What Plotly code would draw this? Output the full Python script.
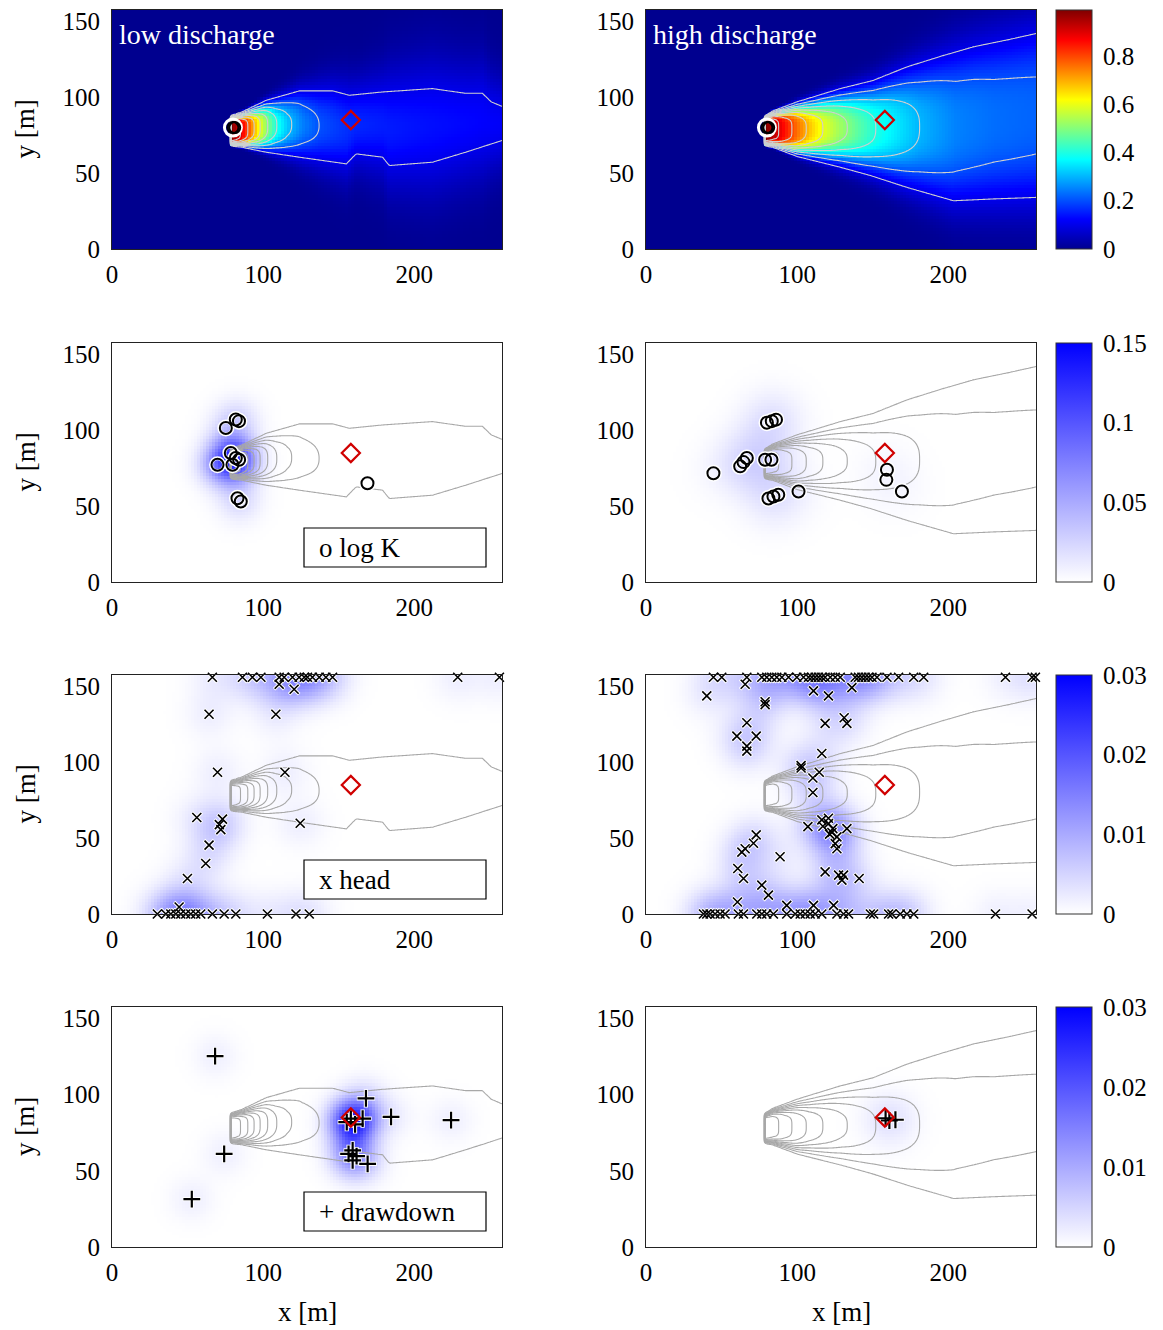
import numpy as np
import plotly.graph_objects as go

FONT = "Liberation Serif"
W, H = 1163, 1330
X_MAX, Y_MAX = 258.0, 157.5
SRC_X = 79.0                 # injection line (plume starts here)
WELL = (80.0, 80.0)          # injection well marker
TARGET = (158.0, 85.0)       # control point (red diamond)

# ---------------- plume, low discharge ----------------
# centre-line concentration along the plume axis
low_cx = [79, 84, 89, 94, 98, 103, 109, 116, 126, 137, 160, 200, 240, 258]
low_cc = [0.99, 0.92, 0.82, 0.70, 0.60, 0.50, 0.40, 0.32, 0.25, 0.20, 0.16, 0.14, 0.125, 0.115]
# upper / lower edge of the 0.1 iso-line
low_tx = [79, 86, 102, 124, 146, 157, 179, 212, 234, 245, 251, 258]
low_top = [88, 90.3, 98, 104.2, 104.2, 101.3, 103.5, 105.7, 102.6, 102.6, 96.9, 94]
low_bx = [79, 86, 102, 124, 155, 161.5, 179, 183.4, 212, 234, 258]
low_bot = [68, 67.1, 63.8, 60.5, 56.1, 62.7, 60.5, 55, 57.2, 63.8, 71.5]
# lateral profile exponent (box-like at the source, gaussian downstream)
low_px = [79, 92, 108, 130, 170, 258]
low_pp = [8, 4.5, 3.0, 2.4, 2.0, 2.0]

# ---------------- plume, high discharge ----------------
high_cx = [79, 86, 93, 100, 108, 117, 128, 140, 152, 166, 181, 205, 230, 258]
high_cc = [0.99, 0.92, 0.84, 0.76, 0.68, 0.60, 0.53, 0.46, 0.40, 0.35, 0.30, 0.25, 0.23, 0.22]
high_tx = [79, 84, 100, 128.5, 150, 172.6, 195, 216.8, 240, 258]
high_top = [88, 91, 97, 105.7, 111, 120, 127, 133.3, 138, 142]
high_bx = [79, 84, 100, 128.5, 150, 172.6, 203.5, 230, 258]
high_bot = [68, 67, 61, 53.9, 48, 40.6, 31.8, 33, 34]
high_px = [79, 92, 108, 130, 170, 258]
high_pp = [8, 5, 3.6, 3.0, 2.8, 2.8]

# ---------------- measurement locations ----------------
logk_lo_x = [81.9, 75.3, 84.0, 78.6, 81.9, 69.8, 79.7, 84.1, 83.0, 85.2, 169.0]
logk_lo_y = [107.1, 101.5, 106.0, 85.0, 81.7, 77.3, 77.3, 80.6, 55.2, 53.0, 65.1]
logk_lo_w = [0.012, 0.008, 0.010, 0.030, 0.030, 0.035, 0.035, 0.030, 0.012, 0.010, 0.0]

logk_hi_x = [83.2, 80.0, 86.0, 66.7, 62.3, 64.5, 78.8, 83.0, 44.6, 84.3, 81.0, 87.5, 100.9, 159.4, 159.0, 169.3]
logk_hi_y = [106.0, 105.0, 107.0, 81.7, 76.2, 79.0, 80.6, 80.6, 71.7, 56.3, 55.0, 57.5, 59.6, 74.0, 67.3, 59.6]
logk_hi_w = [0.006, 0.006, 0.006, 0.006, 0.006, 0.006, 0.006, 0.006, 0.002, 0.005, 0.005, 0.005, 0.003, 0.003, 0.003, 0.002]

head_lo_x = [66.4, 86.3, 92.9, 98.5, 110.6, 113.9, 119.4, 123.8, 127.2, 129.3, 132.6, 137.1, 141.5, 145.9,
             228.7, 256.3, 110.6, 120.5, 64.2, 108.4, 69.8, 114.4, 56.1, 73.1, 71.0, 72.0, 124.5,
             64.2, 62.0, 49.9, 44.4,
             30.0, 35.6, 38.9, 42.2, 45.5, 48.8, 52.1, 55.4, 58.7, 66.4, 74.2, 81.9, 102.8, 121.7, 130.5]
head_lo_y = [156] * 16 + [151.4, 148.1, 131.6, 131.6, 93.4, 93.4, 63.6, 62.5, 58.9, 55.6, 59.8,
                          45.4, 33.3, 23.4, 4.6] + [0] * 15

head_hi_x = [44.6, 50.1, 66.7, 76.6, 79.9, 83.2, 86.5, 89.9, 94.3, 99.8, 104.2, 107.5, 109.7, 111.9,
             114.1, 116.3, 118.5, 121.9, 125.2, 128.5, 138.4, 140.6, 142.8, 145.0, 147.2, 149.5,
             152.8, 159.4, 167.1, 177.1, 183.7, 237.8, 255.4, 257.6,
             40.2, 65.6, 78.8, 78.8, 110.8, 120.7, 136.2, 66.7, 60.1, 72.9, 66.7, 66.7, 118.5, 131.1,
             132.9, 116.3, 102.6, 102.6, 114.6, 110.4, 110.4, 120.7, 116.3, 107.1, 117.0, 120.7,
             123.6, 126.3, 125.2, 123.0, 132.9, 121.4, 126.3, 72.9, 71.1, 65.6, 63.4, 88.7, 60.7,
             64.5, 76.6, 81.0, 118.5, 127.4, 130.7, 129.6, 141.0, 60.5, 93.1, 110.8, 124.1,
             38.0, 40.2, 42.4, 45.7, 49.0, 52.3, 61.1, 64.5, 73.3, 76.6, 79.9, 84.3, 93.1, 98.7,
             102.0, 105.3, 108.6, 111.9, 116.3, 126.3, 130.7, 134.0, 148.4, 150.6, 160.5, 162.7,
             168.2, 172.6, 177.1, 231.2, 255.4]
head_hi_y = [156] * 34 + [143.7, 151.4, 139.9, 138.0, 147.0, 143.7, 149.2, 126.0, 117.2, 117.2, 110.6,
                          107.3, 125.6, 129.3, 125.6, 105.8, 97.8, 96.2, 93.4, 89.6, 80.1, 63.1,
                          62.0, 57.6, 57.8, 59.6, 56.3, 50.8, 46.4, 53.7, 56.3, 52.6, 43.0, 52.1,
                          46.6, 43.0, 40.8, 37.7, 30.0, 23.4, 19.0, 12.4, 27.8, 25.6, 25.6, 22.3,
                          23.4, 7.9, 5.7, 5.7, 5.7] + [0] * 31

dd_lo_x = [68.2, 168.0, 158.0, 165.8, 155.3, 160.8, 184.6, 224.3, 74.2, 159.2, 156.5, 161.8, 159.2, 169.1, 52.8]
dd_lo_y = [125.2, 97.6, 84.3, 84.3, 82.0, 80.5, 85.4, 83.2, 61.1, 63.4, 61.1, 59.6, 56.9, 54.5, 31.4]
dd_lo_w = [0.0018, 0.003, 0.009, 0.006, 0.007, 0.007, 0.002, 0.0018, 0.0018, 0.004, 0.004, 0.003,
           0.003, 0.002, 0.0018]

dd_hi_x = [158.5, 161.0, 165.0]
dd_hi_y = [84.5, 83.0, 83.5]
dd_hi_w = [0.0013, 0.0013, 0.001]

# colour bar ticks per row
cb_ticks = [[0, 0.2, 0.4, 0.6, 0.8], [0, 0.05, 0.1, 0.15], [0, 0.01, 0.02, 0.03], [0, 0.01, 0.02, 0.03]]
cb_text = [["0", "0.2", "0.4", "0.6", "0.8"], ["0", "0.05", "0.1", "0.15"],
           ["0", "0.01", "0.02", "0.03"], ["0", "0.01", "0.02", "0.03"]]
z_max = [0.99, 0.15, 0.03, 0.03]

# ---------------- grids ----------------
hx = np.arange(1.0, 258.0, 2.0)
hy = np.arange(1.0, 158.0, 2.0)
HX, HY = np.meshgrid(hx, hy)
lx = np.arange(0.0, 258.5, 1.0)
ly = np.arange(0.0, 158.0, 1.0)
LX, LY = np.meshgrid(lx, ly)


def plume(X, Y, cx, cc, tx, top, bx, bot, ppx, ppv):
    amp = np.interp(X, cx, cc)
    yt = np.interp(X, tx, top)
    yb = np.interp(X, bx, bot)
    yc = 0.5 * (yt + yb)
    hw = 0.5 * (yt - yb)
    p = np.interp(X, ppx, ppv)
    u = np.abs(Y - yc) / hw
    c = amp * np.exp(u ** p * np.log(0.1 / amp))
    c[X < SRC_X] = 0.0
    return c


def density(X, Y, xs, ys, ws, bw):
    d = np.zeros_like(X)
    for xi, yi, wi in zip(xs, ys, ws):
        d += wi * np.exp(-((X - xi) ** 2 + (Y - yi) ** 2) / (2 * bw ** 2))
    return d


low_args = (low_cx, low_cc, low_tx, low_top, low_bx, low_bot, low_px, low_pp)
high_args = (high_cx, high_cc, high_tx, high_top, high_bx, high_bot, high_px, high_pp)
plume_h = [plume(HX, HY, *low_args), plume(HX, HY, *high_args)]
plume_l = [plume(LX, LY, *low_args), plume(LX, LY, *high_args)]

n_head_lo = len(head_lo_x)
n_head_hi = len(head_hi_x)
dens = {
    (1, 0): density(HX, HY, logk_lo_x, logk_lo_y, logk_lo_w, 10.0),
    (1, 1): density(HX, HY, logk_hi_x, logk_hi_y, logk_hi_w, 14.0),
    (2, 0): density(HX, HY, head_lo_x, head_lo_y, [0.0019] * n_head_lo, 11.0),
    (2, 1): density(HX, HY, head_hi_x, head_hi_y, [0.0016] * n_head_hi, 11.0),
    (3, 0): density(HX, HY, dd_lo_x, dd_lo_y, dd_lo_w, 10.0),
    (3, 1): density(HX, HY, dd_hi_x, dd_hi_y, dd_hi_w, 12.0),
}

marks = {
    (1, 0): (logk_lo_x, logk_lo_y), (1, 1): (logk_hi_x, logk_hi_y),
    (2, 0): (head_lo_x, head_lo_y), (2, 1): (head_hi_x, head_hi_y),
    (3, 0): (dd_lo_x, dd_lo_y), (3, 1): (dd_hi_x, dd_hi_y),
}

JET = [[0.0, "#00008f"], [0.125, "#0000ff"], [0.375, "#00ffff"], [0.625, "#ffff00"],
       [0.875, "#ff0000"], [1.0, "#800000"]]
WHITE_BLUE = [[0.0, "#ffffff"], [1.0, "#0000ff"]]

COL_X = [(112, 502), (646, 1036)]
ROW_Y = [(10, 249), (343, 582), (675, 914), (1007, 1247)]
CB_X = 1056

fig = go.Figure()
layout = {}
shapes = []
annotations = []

for r in range(4):
    for c in range(2):
        k = r * 2 + c + 1
        xa = "x" if k == 1 else f"x{k}"
        ya = "y" if k == 1 else f"y{k}"
        xkey = "xaxis" if k == 1 else f"xaxis{k}"
        ykey = "yaxis" if k == 1 else f"yaxis{k}"
        x0, x1 = COL_X[c]
        y0, y1 = ROW_Y[r]
        layout[xkey] = dict(domain=[x0 / W, x1 / W], anchor=ya, range=[0, X_MAX],
                            tickvals=[0, 100, 200], showgrid=False, zeroline=False,
                            showline=True, mirror=True, linecolor="#222", linewidth=1,
                            ticks="", ticklabelstandoff=3, automargin=False,
                            tickfont=dict(family=FONT, size=25, color="black"))
        layout[ykey] = dict(domain=[1 - y1 / H, 1 - y0 / H], anchor=xa, range=[0, Y_MAX],
                            tickvals=[0, 50, 100, 150], showgrid=False, zeroline=False,
                            showline=True, mirror=True, linecolor="#222", linewidth=1,
                            ticks="", ticklabelstandoff=6, automargin=False,
                            tickfont=dict(family=FONT, size=25, color="black"))

        show_cb = c == 1
        cbar = dict(x=CB_X / W, xanchor="left", xpad=0, y=1 - (y0 + y1) / 2 / H,
                    yanchor="middle", ypad=0, len=(y1 - y0) / H, lenmode="fraction",
                    thickness=36, thicknessmode="pixels", outlinewidth=1, outlinecolor="#333",
                    tickvals=cb_ticks[r], ticktext=cb_text[r], ticks="outside", ticklen=6,
                    tickcolor="rgba(0,0,0,0)", tickfont=dict(family=FONT, size=25, color="black"))

        if r == 0:
            z = plume_h[c]
            cs = JET
            lc = "#cfcfcf"
        else:
            z = dens[(r, c)]
            cs = WHITE_BLUE
            lc = "#a8a8a8"

        fig.add_trace(go.Heatmap(x=hx, y=hy, z=z, zmin=0, zmax=z_max[r], colorscale=cs,
                                 showscale=show_cb, colorbar=cbar if show_cb else None,
                                 hoverinfo="skip", xaxis=xa, yaxis=ya))
        fig.add_trace(go.Contour(x=lx, y=ly, z=plume_l[c], showscale=False,
                                 contours=dict(start=0.1, end=0.9, size=0.1, coloring="none"),
                                 line=dict(color=lc, width=1.1, smoothing=1),
                                 hoverinfo="skip", xaxis=xa, yaxis=ya))

        if r == 0:
            fig.add_trace(go.Scatter(x=[WELL[0]], y=[WELL[1]], mode="markers",
                                     marker=dict(symbol="circle-open", size=17, color="white",
                                                 line=dict(width=3, color="white")),
                                     cliponaxis=False, xaxis=xa, yaxis=ya, hoverinfo="skip"))
            fig.add_trace(go.Scatter(x=[WELL[0], WELL[0] + 1.2], y=[WELL[1], WELL[1]], mode="markers",
                                     marker=dict(symbol="circle-open", size=11, color="black",
                                                 line=dict(width=2, color="black")),
                                     cliponaxis=False, xaxis=xa, yaxis=ya, hoverinfo="skip"))
        else:
            mx, my = marks[(r, c)]
            if r == 1:
                sym, sz, lw = "circle-open", 12, 2.0
            elif r == 2:
                sym, sz, lw = "x-thin", 9, 1.6
            else:
                sym, sz, lw = "cross-thin", 12, 2.2
            fig.add_trace(go.Scatter(x=mx, y=my, mode="markers",
                                     marker=dict(symbol=sym, size=sz + 1, color="white",
                                                 line=dict(width=lw + 2, color="white")),
                                     cliponaxis=False, xaxis=xa, yaxis=ya, hoverinfo="skip"))
            fig.add_trace(go.Scatter(x=mx, y=my, mode="markers",
                                     marker=dict(symbol=sym, size=sz, color="black",
                                                 line=dict(width=lw, color="black")),
                                     cliponaxis=False, xaxis=xa, yaxis=ya, hoverinfo="skip"))

        fig.add_trace(go.Scatter(x=[TARGET[0]], y=[TARGET[1]], mode="markers",
                                 marker=dict(symbol="diamond-open", size=14, color="#d00000",
                                             line=dict(width=2.2, color="#d00000")),
                                 cliponaxis=False, xaxis=xa, yaxis=ya, hoverinfo="skip"))

        # axis titles
        if c == 0:
            annotations.append(dict(text="y [m]", xref="paper", yref="paper", x=25 / W,
                                    y=1 - (y0 + y1) / 2 / H, textangle=-90, showarrow=False,
                                    xanchor="center", yanchor="middle",
                                    font=dict(family=FONT, size=27, color="black")))
        if r == 3:
            annotations.append(dict(text="x [m]", xref="paper", yref="paper",
                                    x=(x0 + x1) / 2 / W, y=1 - 1312 / H, showarrow=False,
                                    xanchor="center", yanchor="middle",
                                    font=dict(family=FONT, size=27, color="black")))

# panel titles
for c, label in enumerate(["low discharge", "high discharge"]):
    annotations.append(dict(text=label, xref="paper", yref="paper", x=(COL_X[c][0] + 5) / W,
                            y=1 - 34 / H, showarrow=False, xanchor="left", yanchor="middle",
                            font=dict(family=FONT, size=28, color="white")))

# legend boxes in the left column
for r, label in [(1, "o log K"), (2, "x head"), (3, "+ drawdown")]:
    y0, y1 = ROW_Y[r]
    top = y0 + 185
    shapes.append(dict(type="rect", xref="paper", yref="paper", x0=304 / W, x1=486 / W,
                       y0=1 - (top + 39) / H, y1=1 - top / H,
                       line=dict(color="black", width=1.2), fillcolor="white", layer="above"))
    annotations.append(dict(text=label, xref="paper", yref="paper", x=317 / W,
                            y=1 - (top + 20) / H, showarrow=False, xanchor="left",
                            yanchor="middle", font=dict(family=FONT, size=27, color="black")))

fig.update_layout(width=W, height=H, margin=dict(l=0, r=0, t=0, b=0, autoexpand=False),
                  paper_bgcolor="white", plot_bgcolor="white", showlegend=False,
                  shapes=shapes, annotations=annotations, **layout)

fig.write_html("out.html")
